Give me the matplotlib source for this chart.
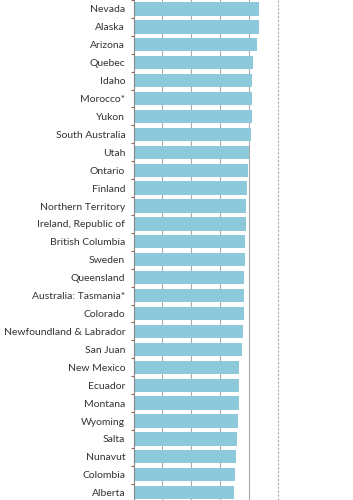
import matplotlib
matplotlib.use("Agg")
import matplotlib.pyplot as plt

categories = ["Nevada", "Alaska", "Arizona", "Quebec", "Idaho", "Morocco*", "Yukon",
              "South Australia", "Utah", "Ontario", "Finland", "Northern Territory",
              "Ireland, Republic of", "British Columbia", "Sweden", "Queensland",
              "Australia: Tasmania*", "Colorado", "Newfoundland & Labrador", "San Juan",
              "New Mexico", "Ecuador", "Montana", "Wyoming", "Salta", "Nunavut",
              "Colombia", "Alberta"]
values = [87.4, 86.9, 86.0, 83.0, 82.5, 82.5, 82.5,
          81.8, 80.0, 79.7, 79.0, 78.1,
          78.1, 77.6, 77.4, 76.9,
          76.7, 76.7, 75.8, 75.3,
          73.0, 73.0, 73.0, 72.6, 71.9, 71.0,
          70.3, 69.8]
grid_ticks = [20, 40, 60, 80, 100]

plt.rcParams['font.family'] = ['Lato', 'DejaVu Sans']

W, H = 353, 500
fig = plt.figure(figsize=(W / 100, H / 100), dpi=100)
left = 133.5 / W
ax = fig.add_axes([left, 0, 1 - left, 1])

ypos = list(range(len(categories)))
ax.barh(ypos, values, height=0.74, color="#8DC8DB", zorder=2)

ax.set_xlim(0, (W - 133.5) / 1.44)
ax.set_ylim((H - 8.3) / 17.94, -8.3 / 17.94)

for i, g in enumerate(grid_ticks):
    ax.axvline(g, color="#AAAAAA", lw=0.8,
               ls=(0, (2, 1.5)) if g == grid_ticks[-1] else "-", zorder=1)

ax.set_yticks(ypos)
ax.set_yticklabels(categories, fontsize=7.5, color="#333333")
ax.tick_params(axis="y", length=0, pad=6)
ax.set_yticks([p + 0.5 for p in ypos[:-1]] + [-0.5], minor=True)
ax.tick_params(axis="y", which="minor", length=2.5, color="#9A6060", width=0.8)
ax.set_xticks([])

for s in ["top", "right", "bottom"]:
    ax.spines[s].set_visible(False)
ax.spines["left"].set_color("#888888")
ax.spines["left"].set_linewidth(0.8)

fig.savefig("out.png", dpi=100)
